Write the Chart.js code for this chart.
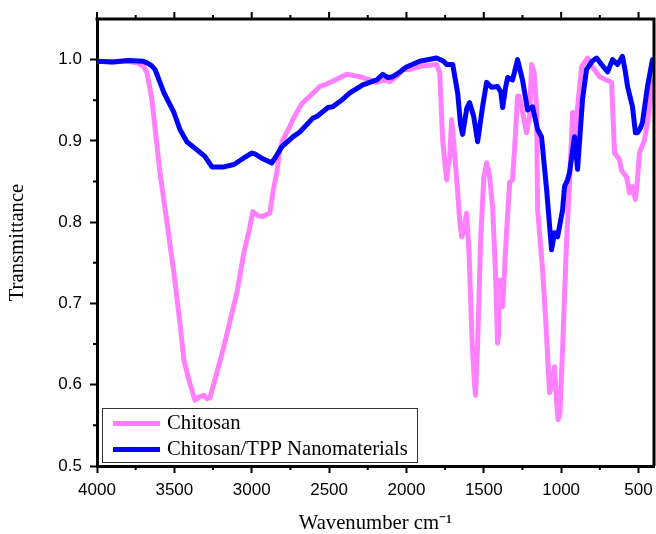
<!DOCTYPE html>
<html>
<head>
<meta charset="utf-8">
<script src="https://cdn.jsdelivr.net/npm/chart.js@4/dist/chart.umd.min.js"></script>
<style>
html,body{margin:0;padding:0;background:#fff;}
canvas{display:block;}
</style>
</head>
<body>
<canvas id="c" width="656" height="534"></canvas>
<script>
// ---- data ----
const chitosanWn = [4000,3900,3800,3742,3700,3677,3645,3593,3548,3503,3464,3438,3406,3367,3340,3309,3290,3270,3225,3180,3128,3096,3051,3012,2993,2960,2928,2900,2883,2860,2838,2818,2799,2754,2734,2680,2625,2560,2515,2450,2386,2330,2282,2192,2150,2108,2060,2024,1979,1900,1805,1785,1766,1750,1740,1730,1721,1708,1695,1670,1655,1643,1625,1611,1595,1575,1560,1553,1540,1520,1500,1482,1465,1443,1425,1411,1405,1398,1378,1353,1333,1314,1295,1282,1270,1256,1224,1204,1191,1175,1159,1152,1120,1100,1075,1060,1043,1030,1020,1008,991,965,946,926,914,900,868,830,797,752,707,674,655,623,610,578,558,539,520,507,494,462,442,410,400];
const chitosanT  = [0.998,0.997,0.998,0.996,0.992,0.984,0.951,0.861,0.800,0.738,0.676,0.630,0.606,0.581,0.585,0.587,0.583,0.584,0.615,0.647,0.688,0.713,0.762,0.794,0.813,0.808,0.807,0.810,0.811,0.840,0.861,0.889,0.901,0.918,0.926,0.945,0.955,0.967,0.970,0.976,0.982,0.980,0.978,0.972,0.975,0.973,0.980,0.988,0.988,0.992,0.994,0.984,0.901,0.870,0.852,0.870,0.877,0.926,0.900,0.840,0.800,0.782,0.795,0.811,0.760,0.650,0.600,0.587,0.650,0.780,0.855,0.873,0.860,0.819,0.740,0.651,0.660,0.729,0.696,0.787,0.849,0.852,0.910,0.955,0.955,0.942,0.910,0.930,0.994,0.985,0.942,0.815,0.741,0.680,0.590,0.600,0.622,0.580,0.557,0.565,0.643,0.778,0.849,0.935,0.889,0.930,0.991,1.002,0.991,0.979,0.975,0.972,0.885,0.877,0.864,0.856,0.836,0.844,0.828,0.852,0.885,0.901,0.922,0.972,0.975];

const tppWn = [4000,3900,3800,3700,3677,3650,3625,3567,3503,3464,3419,3354,3303,3257,3180,3115,3051,3000,2980,2928,2870,2840,2805,2734,2689,2605,2579,2508,2476,2420,2366,2282,2192,2153,2120,2089,2040,2000,1914,1805,1760,1740,1701,1669,1650,1637,1610,1592,1565,1540,1508,1482,1450,1411,1390,1378,1360,1346,1314,1282,1250,1217,1185,1152,1127,1094,1062,1043,1023,991,978,959,946,914,894,862,836,800,771,739,700,668,636,604,585,571,539,520,507,490,475,442,410,400];
const tppT  = [0.998,0.997,0.999,0.998,0.996,0.993,0.988,0.959,0.935,0.914,0.899,0.889,0.881,0.868,0.868,0.871,0.879,0.885,0.884,0.878,0.873,0.882,0.893,0.905,0.911,0.928,0.930,0.941,0.942,0.950,0.959,0.969,0.975,0.982,0.978,0.979,0.985,0.991,0.998,1.002,0.998,0.994,0.994,0.959,0.920,0.908,0.940,0.947,0.930,0.899,0.942,0.972,0.966,0.967,0.960,0.941,0.965,0.978,0.975,1.000,0.975,0.938,0.942,0.914,0.905,0.840,0.766,0.787,0.782,0.815,0.844,0.852,0.861,0.905,0.865,0.951,0.988,0.998,1.002,0.994,0.985,1.000,0.994,1.004,0.985,0.967,0.942,0.910,0.910,0.915,0.922,0.967,1.000,1.000];

const seriesNames = ['Chitosan','Chitosan/TPP Nanomaterials'];
const seriesColors = ['#FF80FF','#0000FF'];
const xTickValues = [500,1000,1500,2000,2500,3000,3500,4000];
const xMinorValues = [750,1250,1750,2250,2750,3250,3750];
const yTickValues = [0.5,0.6,0.7,0.8,0.9,1.0];
const yMinorValues = [0.55,0.65,0.75,0.85,0.95];

const toPts = (xs, ys) => xs.map((x,i)=>({x:x, y:ys[i]}));

const SERIF = "'Times New Roman','Liberation Serif',serif";
const SANS = "Arial,'Liberation Sans',sans-serif";

const framePlugin = {
  id: 'frame',
  afterDraw(chart) {
    const ctx = chart.ctx;
    const a = chart.chartArea;
    const xs = chart.scales.x, ys = chart.scales.y;
    ctx.save();
    ctx.strokeStyle = '#000';
    // top & right frame
    ctx.lineWidth = 3;
    ctx.beginPath();
    ctx.moveTo(a.left - 1.5, a.top);
    ctx.lineTo(a.right, a.top);
    ctx.lineTo(a.right, a.bottom);
    ctx.stroke();
    ctx.lineWidth = 2;
    ctx.beginPath();
    // top major ticks (outward)
    xTickValues.forEach(v => { const p = xs.getPixelForValue(v); ctx.moveTo(p, a.top); ctx.lineTo(p, a.top - 7); });
    // top & bottom minor ticks
    xMinorValues.forEach(v => {
      const p = xs.getPixelForValue(v);
      ctx.moveTo(p, a.top); ctx.lineTo(p, a.top - 4);
      ctx.moveTo(p, a.bottom); ctx.lineTo(p, a.bottom + 4);
    });
    // left minor ticks
    yMinorValues.forEach(v => { const p = ys.getPixelForValue(v); ctx.moveTo(a.left, p); ctx.lineTo(a.left - 4, p); });
    ctx.stroke();

    // legend box
    const bx = 102.5, by = 408.5, bw = 315, bh = 54;
    ctx.fillStyle = '#fff';
    ctx.fillRect(bx, by, bw, bh);
    ctx.lineWidth = 1;
    ctx.strokeStyle = '#333';
    ctx.strokeRect(bx, by, bw, bh);
    const rowsY = [423.5, 449.5];
    chart.data.datasets.forEach((ds, i) => {
      const y = rowsY[i];
      ctx.strokeStyle = ds.borderColor;
      ctx.lineWidth = 5;
      ctx.beginPath();
      ctx.moveTo(113, y); ctx.lineTo(160, y);
      ctx.stroke();
      ctx.fillStyle = '#000';
      ctx.font = '20.7px ' + SERIF;
      ctx.textBaseline = 'middle';
      ctx.textAlign = 'left';
      ctx.fillText(ds.label, 167, y);
    });
    ctx.restore();
  }
};

new Chart(document.getElementById('c'), {
  type: 'line',
  data: {
    datasets: [
      { label: seriesNames[0], data: toPts(chitosanWn, chitosanT), borderColor: seriesColors[0], backgroundColor: seriesColors[0], borderWidth: 5, pointRadius: 0, tension: 0, order: 2, borderJoinStyle: 'round', borderCapStyle: 'round' },
      { label: seriesNames[1], data: toPts(tppWn, tppT), borderColor: seriesColors[1], backgroundColor: seriesColors[1], borderWidth: 5, pointRadius: 0, tension: 0, order: 1, borderJoinStyle: 'round', borderCapStyle: 'round' }
    ]
  },
  options: {
    responsive: false,
    animation: false,
    parsing: false,
    layout: { padding: { top: 19, right: 2, left: 0, bottom: 0 } },
    plugins: { legend: { display: false }, tooltip: { enabled: false } },
    scales: {
      x: {
        type: 'linear', reverse: true, min: 400, max: 4000,
        afterBuildTicks: s => { s.ticks = xTickValues.map(v => ({ value: v })); },
        afterFit: s => { s.height = 68; },
        ticks: { color: '#000', font: { family: SANS, size: 17 }, padding: 7, maxRotation: 0, autoSkip: false, callback: v => String(v) },
        grid: { display: true, drawOnChartArea: false, drawTicks: true, tickLength: 7, tickWidth: 2, tickColor: '#000' },
        border: { display: true, color: '#000', width: 3 },
        title: { display: true, text: 'Wavenumber cm\u207B\u00B9', color: '#000', font: { family: SERIF, size: 20.7, lineHeight: 1.0 }, padding: { top: 0, bottom: 0 } }
      },
      y: {
        type: 'linear', min: 0.5, max: 1.05,
        afterBuildTicks: s => { s.ticks = yTickValues.map(v => ({ value: v })); },
        afterFit: s => { s.width = 97; },
        ticks: { color: '#000', font: { family: SANS, size: 17 }, padding: 8, autoSkip: false, callback: v => Number(v).toFixed(1) },
        grid: { display: true, drawOnChartArea: false, drawTicks: true, tickLength: 7, tickWidth: 2, tickColor: '#000' },
        border: { display: true, color: '#000', width: 3 },
        title: { display: true, text: 'Transmittance', color: '#000', font: { family: SERIF, size: 20.7, lineHeight: 1.0 }, padding: { top: 7, bottom: 0 } }
      }
    }
  },
  plugins: [framePlugin]
});
</script>
</body>
</html>
